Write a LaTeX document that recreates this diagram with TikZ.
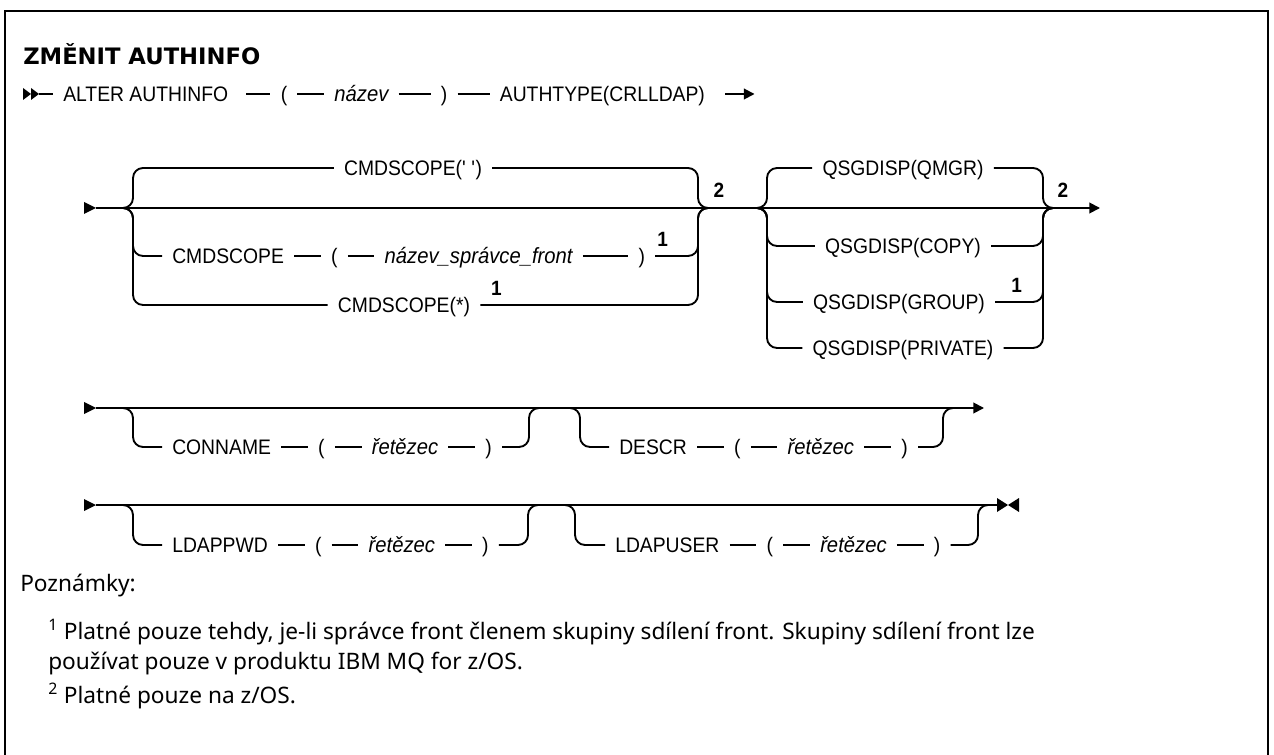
\documentclass[tikz,border=0pt]{standalone}
\usepackage{fontspec}
\setmainfont{Noto Sans}
\newfontfamily\diagfont{Liberation Sans}[FakeStretch=0.92]
\newfontfamily\titlefont{DejaVu Sans}
\usetikzlibrary{positioning,arrows.meta}

\begin{document}
\begin{tikzpicture}[x=0.75pt, y=-0.75pt,
        kw/.style={font=\diagfont\fontsize{15.75}{18}\selectfont, inner xsep=7.5pt, inner ysep=0pt, text height=11.3pt, text depth=0pt},
        var/.style={kw, font=\diagfont\itshape\fontsize{16.5}{18}\selectfont},
        ref/.style={font=\diagfont\bfseries\fontsize{15.5}{18}\selectfont, inner sep=0pt},
        rail/.style={line width=1.4pt},
        fork/.style={rail, rounded corners=7.5pt},
        go/.style={rail, -{Triangle[length=8pt,width=8pt]}},
        note/.style={font=\fontsize{17}{20}\selectfont, anchor=west, inner sep=0pt}
    ]
        \useasboundingbox (0,0) rectangle (1274,755);
        \draw[line width=1.5pt] (5,755) -- (5,11) -- (1268,11) -- (1268,755);

        \node[anchor=west, inner sep=0pt, font=\titlefont\bfseries\fontsize{17}{20}\selectfont] (title) at (23,54) {ZMĚNIT AUTHINFO};

        % row 1
        \fill (23,88) -- (31,94) -- (23,100) -- cycle;
        \fill (31,88) -- (39,94) -- (31,100) -- cycle;
        \coordinate (r1s) at (39,94);
        \node[kw, anchor=west] (alter) at (53,94) {ALTER AUTHINFO};
        \node[kw, right=24pt of alter] (lp1) {(};
        \node[var, right=20pt of lp1] (nazev) {název};
        \node[kw, right=24pt of nazev] (rp1) {)};
        \node[kw, right=24pt of rp1] (authtype) {AUTHTYPE(CRLLDAP)};
        \coordinate[right=7.5pt of authtype] (r1a);
        \coordinate[right=22pt of r1a] (r1b);
        \draw[rail] (r1s) -- (alter);
        \draw[rail] ([xshift=-18pt]lp1.west) -- (lp1) -- (nazev) -- (rp1) -- (authtype);
        \draw[go] (r1a) -- (r1b);

        % row 2: CMDSCOPE and QSGDISP
        \fill (84,202) -- (96,208) -- (84,214) -- cycle;
        \coordinate (r2s) at (96,208);
        \coordinate (r2e) at (1100,208);
        \coordinate (g1a) at (123,208);
        \coordinate (g1r) at (698,208);
        \coordinate (g2a) at (757,208);
        \coordinate (g2r) at (1043,208);
        \draw[go] (r2s) -- (r2e);

        \node[kw] (cs1) at (413,168) {CMDSCOPE(\textquotesingle{} \textquotesingle)};
        \node[kw, anchor=west] (cs2) at (162,256) {CMDSCOPE};
        \node[kw, right=20pt of cs2] (lp2) {(};
        \node[var, right=20pt of lp2] (qmname) {název\_správce\_front};
        \node[kw, right=34pt of qmname] (rp2) {)};
        \node[kw] (cs3) at (404,305) {CMDSCOPE(*)};
        \node[ref, anchor=south west] (n1a) at ([xshift=1.5pt,yshift=7pt]rp2.east) {1};
        \node[ref, anchor=south west] (n1b) at ([xshift=8pt,yshift=7pt]cs3.east) {1};
        \node[ref] (n2a) at (719,190) {2};

        \draw[fork] (g1a) -- ++(10,0) |- (cs1);
        \draw[fork] (g1a) -- ++(10,0) |- (cs2);
        \draw[fork] (g1a) -- ++(10,0) |- (cs3);
        \draw[rail] (cs2) -- (lp2) -- (qmname) -- (rp2);
        \draw[fork] (cs1) -| (g1r) -- ++(10,0);
        \draw[fork] (rp2) -| (g1r) -- ++(10,0);
        \draw[fork] (cs3) -| (g1r) -- ++(10,0);

        \node[kw] (qs1) at (903,168) {QSGDISP(QMGR)};
        \node[kw] (qs2) at (903,246) {QSGDISP(COPY)};
        \node[kw] (qs3) at (899,302) {QSGDISP(GROUP)};
        \node[kw] (qs4) at (903,348) {QSGDISP(PRIVATE)};
        \node[ref, anchor=south west] (n1c) at ([xshift=12pt,yshift=7pt]qs3.east) {1};
        \node[ref] (n2b) at (1063,190) {2};

        \foreach \q in {qs1,qs2,qs3,qs4} {
            \draw[fork] (g2a) -- ++(10,0) |- (\q);
            \draw[fork] (\q) -| (g2r) -- ++(10,0);
        }

        % row 3: CONNAME, DESCR
        \fill (84,402) -- (96,408) -- (84,414) -- cycle;
        \coordinate (r3s) at (96,408);
        \coordinate (r3e) at (984,408);
        \coordinate (c1a) at (123,408);
        \coordinate (c1r) at (529,408);
        \coordinate (c2a) at (570,408);
        \coordinate (c2r) at (943,408);
        \draw[go] (r3s) -- (r3e);

        \node[kw, anchor=west] (conname) at (162,447) {CONNAME};
        \node[kw, right=20pt of conname] (lp3) {(};
        \node[var, right=20pt of lp3] (str1) {řetězec};
        \node[kw, right=20pt of str1] (rp3) {)};
        \node[kw, anchor=west] (descr) at (609,447) {DESCR};
        \node[kw, right=20pt of descr] (lp4) {(};
        \node[var, right=20pt of lp4] (str2) {řetězec};
        \node[kw, right=20pt of str2] (rp4) {)};

        \draw[fork] (c1a) -- ++(10,0) |- (conname);
        \draw[rail] (conname) -- (lp3) -- (str1) -- (rp3);
        \draw[fork] (rp3) -| (c1r) -- ++(10,0);
        \draw[fork] (c2a) -- ++(10,0) |- (descr);
        \draw[rail] (descr) -- (lp4) -- (str2) -- (rp4);
        \draw[fork] (rp4) -| (c2r) -- ++(10,0);

        % row 4: LDAPPWD, LDAPUSER
        \fill (84,499) -- (96,505) -- (84,511) -- cycle;
        \coordinate (r4s) at (96,505);
        \coordinate (r4e) at (997,505);
        \coordinate (l1a) at (123,505);
        \coordinate (l1r) at (528,505);
        \coordinate (l2a) at (565,505);
        \coordinate (l2r) at (978,505);
        \draw[rail] (r4s) -- (r4e);
        \fill (997,498) -- (1008,505) -- (997,512) -- cycle;
        \fill (1019,498) -- (1008,505) -- (1019,512) -- cycle;

        \node[kw, anchor=west] (ldappwd) at (162,545) {LDAPPWD};
        \node[kw, right=20pt of ldappwd] (lp5) {(};
        \node[var, right=20pt of lp5] (str3) {řetězec};
        \node[kw, right=20pt of str3] (rp5) {)};
        \node[kw, anchor=west] (ldapuser) at (605,545) {LDAPUSER};
        \node[kw, right=20pt of ldapuser] (lp6) {(};
        \node[var, right=20pt of lp6] (str4) {řetězec};
        \node[kw, right=20pt of str4] (rp6) {)};

        \draw[fork] (l1a) -- ++(10,0) |- (ldappwd);
        \draw[rail] (ldappwd) -- (lp5) -- (str3) -- (rp5);
        \draw[fork] (rp5) -| (l1r) -- ++(10,0);
        \draw[fork] (l2a) -- ++(10,0) |- (ldapuser);
        \draw[rail] (ldapuser) -- (lp6) -- (str4) -- (rp6);
        \draw[fork] (rp6) -| (l2r) -- ++(10,0);

        % notes
        \node[note] (pozn) at (20,586) {Poznámky:};
        \node[note] (fn1) at (48,632) {\textsuperscript{1} Platné pouze tehdy, je-li správce front členem skupiny sdílení front. Skupiny sdílení front lze};
        \node[note] (fn1b) at (48,664) {používat pouze v produktu IBM MQ for z/OS.};
        \node[note] (fn2) at (48,696) {\textsuperscript{2} Platné pouze na z/OS.};
    \end{tikzpicture}
\end{document}
